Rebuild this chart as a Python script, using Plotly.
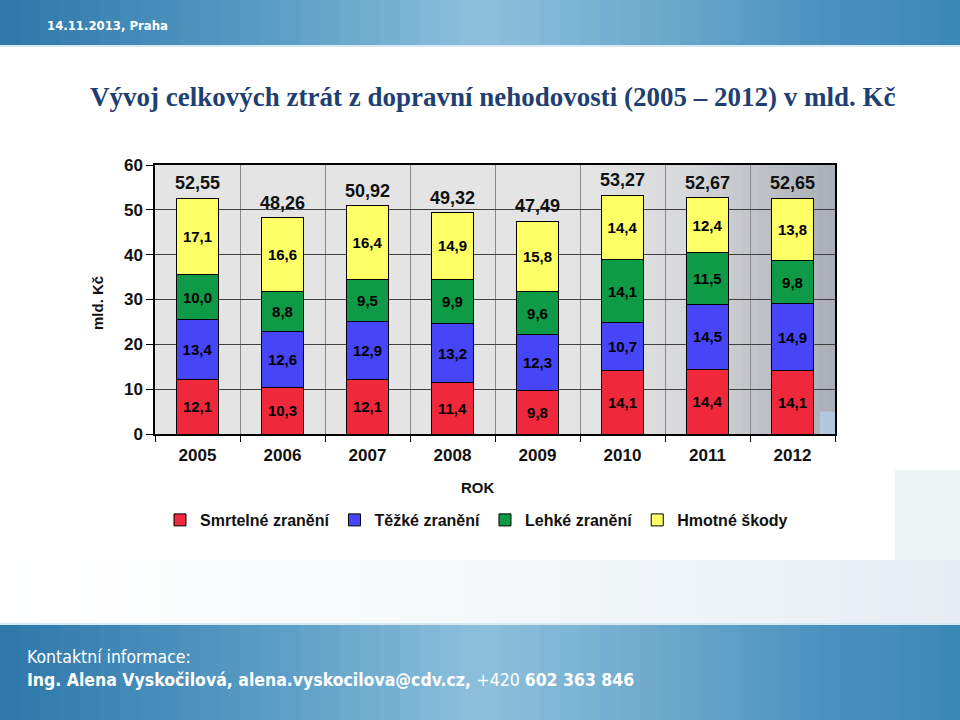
import plotly.graph_objects as go

years = ["2005", "2006", "2007", "2008", "2009", "2010", "2011", "2012"]
smrtelne = [12.1, 10.3, 12.1, 11.4, 9.8, 14.1, 14.4, 14.1]
tezke = [13.4, 12.6, 12.9, 13.2, 12.3, 10.7, 14.5, 14.9]
lehke = [10.0, 8.8, 9.5, 9.9, 9.6, 14.1, 11.5, 9.8]
hmotne = [17.1, 16.6, 16.4, 14.9, 15.8, 14.4, 12.4, 13.8]
totals = [52.55, 48.26, 50.92, 49.32, 47.49, 53.27, 52.67, 52.65]
y_ticks = [0, 10, 20, 30, 40, 50, 60]

series = [
    ("Smrtelné zranění", smrtelne, "#f0283c"),
    ("Těžké zranění", tezke, "#4646f8"),
    ("Lehké zranění", lehke, "#0e9a46"),
    ("Hmotné škody", hmotne, "#ffff66"),
]

W, H = 960, 720
L, R, T, B = 155, 835, 165, 434
SANS = "Liberation Sans, Arial, sans-serif"
NARROW = "Liberation Sans Narrow, Arial Narrow, DejaVu Sans Condensed, Liberation Sans, sans-serif"


def px(x):
    return (x - L) / (R - L)


def py(y):
    return (B - y) / (B - T)


def fmt(v, d):
    return f"{v:.{d}f}".replace(".", ",")


def lerp_color(stops, t):
    for i in range(len(stops) - 1):
        t0, c0 = stops[i]
        t1, c1 = stops[i + 1]
        if t0 <= t <= t1:
            f = (t - t0) / (t1 - t0) if t1 > t0 else 0
            a = [int(c0[k:k + 2], 16) for k in (1, 3, 5)]
            b = [int(c1[k:k + 2], 16) for k in (1, 3, 5)]
            c = [round(a[j] + (b[j] - a[j]) * f) for j in range(3)]
            return "#%02x%02x%02x" % tuple(c)
    return stops[-1][1]


fig = go.Figure()

for name, vals, col in series:
    fig.add_trace(go.Bar(
        x=years, y=vals, name=name,
        marker=dict(color=col, line=dict(color="black", width=1)),
        text=[fmt(v, 1) for v in vals],
        textposition="inside", insidetextanchor="middle",
        textfont=dict(family=SANS, size=15, color="black", weight="bold"),
        constraintext="none",
        hoverinfo="skip",
    ))

shapes = []
# header and footer gradient bands
band_stops = [(0.0, "#2c78a9"), (0.3, "#5d9fc7"), (0.5, "#8ec0dc"), (0.68, "#6eaacd"),
              (0.85, "#4b93bf"), (1.0, "#3a88b6")]
n = 48
for i in range(n):
    x0 = i * W / n
    x1 = (i + 1) * W / n + 1
    c = lerp_color(band_stops, (i + 0.5) / n)
    shapes.append(dict(type="rect", xref="paper", yref="paper", layer="below",
                       x0=px(x0), x1=px(x1), y0=py(0), y1=py(45),
                       fillcolor=c, line=dict(width=0)))
    shapes.append(dict(type="rect", xref="paper", yref="paper", layer="below",
                       x0=px(x0), x1=px(x1), y0=py(625), y1=py(720),
                       fillcolor=c, line=dict(width=0)))
shapes.append(dict(type="rect", xref="paper", yref="paper", layer="below",
                   x0=px(0), x1=px(960), y0=py(45), y1=py(47),
                   fillcolor="#d6e8f1", line=dict(width=0)))
shapes.append(dict(type="rect", xref="paper", yref="paper", layer="below",
                   x0=px(0), x1=px(960), y0=py(623), y1=py(625),
                   fillcolor="#d6e8f1", line=dict(width=0)))
# slide background tint around the chart picture
slide_stops = [(0.0, "#ffffff"), (0.5, "#f5f8fa"), (1.0, "#e6eef3")]
for i in range(n):
    x0 = i * W / n
    x1 = (i + 1) * W / n + 1
    c = lerp_color(slide_stops, (i + 0.5) / n)
    shapes.append(dict(type="rect", xref="paper", yref="paper", layer="below",
                       x0=px(x0), x1=px(x1), y0=py(560), y1=py(623),
                       fillcolor=c, line=dict(width=0)))
shapes.append(dict(type="rect", xref="paper", yref="paper", layer="below",
                   x0=px(895), x1=px(960), y0=py(470), y1=py(560),
                   fillcolor="#eef3f6", line=dict(width=0)))
# plot background shading (right side darker)
bg_stops = [(0.0, "#e4e4e4"), (0.4, "#d8d9db"), (0.75, "#bcbfc4"), (1.0, "#aaaeb6")]
m = 30
for i in range(m):
    x0 = 4.5 + 3.0 * i / m
    x1 = 4.5 + 3.0 * (i + 1) / m + 0.01
    c = lerp_color(bg_stops, (i + 0.5) / m)
    shapes.append(dict(type="rect", xref="x", yref="y", layer="below",
                       x0=x0, x1=min(x1, 7.5), y0=0, y1=60,
                       fillcolor=c, line=dict(width=0)))
shapes.append(dict(type="rect", xref="x", yref="y", layer="below",
                   x0=7.32, x1=7.5, y0=0, y1=5,
                   fillcolor="#b3c7df", line=dict(width=0)))

annotations = [
    dict(text="14.11.2013, Praha", x=px(45), y=py(25), xref="paper", yref="paper",
         xanchor="left", yanchor="middle", showarrow=False,
         font=dict(family=NARROW, size=13, color="white", weight="bold")),
    dict(text="Vývoj celkových ztrát z dopravní nehodovosti (2005 – 2012) v mld. Kč",
         x=px(492), y=py(97), xref="paper", yref="paper",
         xanchor="center", yanchor="middle", showarrow=False,
         font=dict(family="Liberation Serif, Times New Roman, serif", size=27,
                   color="#1f3f73", weight="bold")),
    dict(text="mld. Kč", x=px(97), y=py(303), xref="paper", yref="paper",
         xanchor="center", yanchor="middle", showarrow=False, textangle=-90,
         font=dict(family=SANS, size=15, color="#111111", weight="bold")),
    dict(text="ROK", x=px(478), y=py(487), xref="paper", yref="paper",
         xanchor="center", yanchor="middle", showarrow=False,
         font=dict(family=SANS, size=15, color="#111111", weight="bold")),
    dict(text="Kontaktní informace:", x=px(25), y=py(657), xref="paper", yref="paper",
         xanchor="left", yanchor="middle", showarrow=False,
         font=dict(family=NARROW, size=17.5, color="white")),
    dict(text="<b>Ing. Alena Vyskočilová, alena.vyskocilova@cdv.cz, </b>+420 <b>602 363 846</b>",
         x=px(25), y=py(680), xref="paper", yref="paper",
         xanchor="left", yanchor="middle", showarrow=False,
         font=dict(family=NARROW, size=17.5, color="white")),
]
# totals above the bars (category index positions)
for idx, tot in enumerate(totals):
    annotations.append(dict(
        text=fmt(tot, 2), x=idx, y=tot, xref="x", yref="y",
        xanchor="center", yanchor="bottom", yshift=3, showarrow=False,
        font=dict(family=SANS, size=18, color="#111111", weight="bold")))

fig.update_layout(
    width=W, height=H,
    margin=dict(l=L, r=W - R, t=T, b=H - B, pad=0),
    paper_bgcolor="white", plot_bgcolor="#e4e4e4",
    barmode="stack", bargap=0.5,
    separators=", ",
    showlegend=True,
    legend=dict(orientation="h", x=px(160), y=py(520), xanchor="left", yanchor="middle",
                font=dict(family=SANS, size=16, color="#111111", weight="bold"),
                itemwidth=30, traceorder="normal", bgcolor="rgba(0,0,0,0)"),
    shapes=shapes,
    annotations=annotations,
    xaxis=dict(type="category", tickson="boundaries", showgrid=True, gridcolor="#8a8a8a",
               gridwidth=1, showline=True, linecolor="black", linewidth=1.5, mirror=True,
               ticks="outside", ticklen=6, tickcolor="black", ticklabelstandoff=5,
               tickfont=dict(family=SANS, size=17, color="#111111", weight="bold"),
               range=[-0.5, 7.5], fixedrange=True),
    yaxis=dict(range=[0, 60], tickvals=y_ticks, showgrid=True, gridcolor="#404040",
               gridwidth=1, showline=True, linecolor="black", linewidth=1.5, mirror=True,
               ticks="outside", ticklen=7, tickcolor="black", zeroline=False,
               tickfont=dict(family=SANS, size=17, color="#111111", weight="bold"),
               fixedrange=True),
)

fig.write_html("out.html", config={"displayModeBar": False},
               post_script="document.body.style.margin='0px';")
